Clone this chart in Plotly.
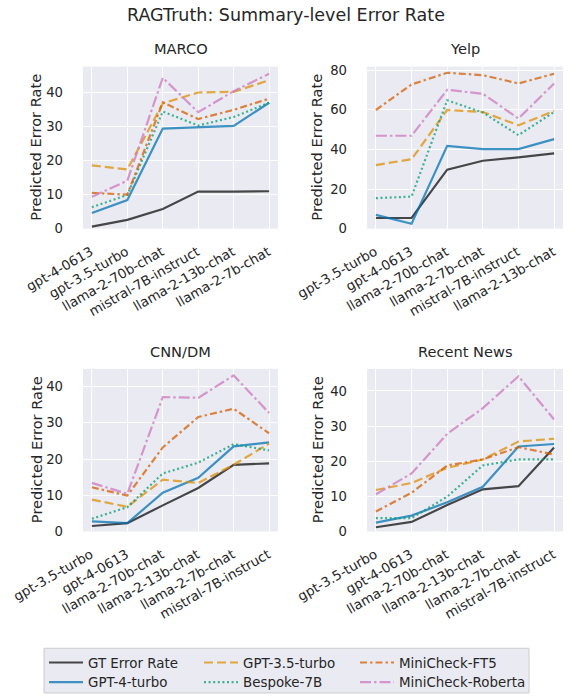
import plotly.graph_objects as go

W, H = 569, 698

# ---------------- data ----------------
series_names = ["GT Error Rate", "GPT-4-turbo", "GPT-3.5-turbo", "Bespoke-7B", "MiniCheck-FT5", "MiniCheck-Roberta"]

marco_cats = ["gpt-4-0613", "gpt-3.5-turbo", "llama-2-70b-chat", "mistral-7B-instruct", "llama-2-13b-chat", "llama-2-7b-chat"]
marco_gt = [0.6, 2.6, 5.8, 10.9, 10.9, 11.0]
marco_gpt4 = [4.6, 8.4, 29.4, 29.8, 30.2, 37.0]
marco_gpt35 = [18.6, 17.4, 36.8, 40.0, 40.2, 43.6]
marco_bespoke = [6.3, 9.9, 34.4, 30.3, 32.8, 37.0]
marco_ft5 = [10.5, 10.0, 37.1, 32.2, 34.9, 38.2]
marco_roberta = [9.4, 14.1, 44.3, 34.2, 40.4, 45.5]

yelp_cats = ["gpt-3.5-turbo", "gpt-4-0613", "llama-2-70b-chat", "llama-2-7b-chat", "mistral-7B-instruct", "llama-2-13b-chat"]
yelp_gt = [5.4, 5.5, 29.8, 34.3, 36.0, 38.0]
yelp_gpt4 = [7.0, 2.5, 41.8, 40.2, 40.2, 45.2]
yelp_gpt35 = [32.1, 35.1, 59.9, 58.9, 52.2, 59.4]
yelp_bespoke = [15.4, 16.2, 64.8, 58.6, 47.2, 58.9]
yelp_ft5 = [59.9, 72.8, 78.7, 77.5, 73.3, 78.2]
yelp_roberta = [46.9, 46.9, 70.1, 68.1, 55.6, 73.3]

cnn_cats = ["gpt-3.5-turbo", "gpt-4-0613", "llama-2-70b-chat", "llama-2-13b-chat", "llama-2-7b-chat", "mistral-7B-instruct"]
cnn_gt = [1.5, 2.3, 7.2, 12.0, 18.4, 18.8]
cnn_gpt4 = [2.8, 2.3, 10.7, 14.8, 23.5, 24.6]
cnn_gpt35 = [8.8, 6.8, 14.3, 13.4, 18.4, 24.3]
cnn_bespoke = [3.5, 6.7, 16.0, 19.0, 24.1, 22.4]
cnn_ft5 = [12.2, 9.9, 23.2, 31.6, 33.9, 27.1]
cnn_roberta = [13.4, 10.4, 37.1, 36.9, 43.1, 32.7]

news_cats = ["gpt-3.5-turbo", "gpt-4-0613", "llama-2-70b-chat", "llama-2-13b-chat", "llama-2-7b-chat", "mistral-7B-instruct"]
news_gt = [1.2, 2.7, 7.5, 12.0, 12.9, 23.9]
news_gpt4 = [2.5, 4.5, 8.3, 12.7, 24.2, 24.9]
news_gpt35 = [11.8, 13.8, 18.1, 20.5, 25.6, 26.4]
news_bespoke = [3.8, 3.8, 9.9, 18.8, 20.5, 20.5]
news_ft5 = [5.7, 11.0, 18.8, 20.5, 24.0, 21.9]
news_roberta = [10.6, 16.5, 27.8, 35.1, 44.2, 31.9]

panel_titles = ["MARCO", "Yelp", "CNN/DM", "Recent News"]
y_ticks_small = [0, 10, 20, 30, 40]
y_ticks_yelp = [0, 20, 40, 60, 80]

# ---------------- styling ----------------
colors = ["rgba(0,0,0,0.70)", "rgba(1,115,178,0.75)", "rgba(222,143,5,0.75)",
          "rgba(2,158,115,0.75)", "rgba(213,94,0,0.75)", "rgba(204,120,188,0.75)"]
dashes = ["solid", "solid", "9px,4px", "2px,2.6px", "7px,3px,2.5px,3px", "11px,3px,2.5px,3px"]
TXT = "#262626"
FONT = "DejaVu Sans"

def px_x(p):
    return p / W

def px_y(p):
    return 1 - p / H

# panel pixel boxes: (left, right, top, bottom)
boxes = [(83, 278, 67, 230), (367, 563, 67, 230), (83, 278, 371, 534.5), (367, 563, 371, 534.5)]
yranges = [[0, 47.6], [0, 81.8], [0, 44.9], [0, 46.3]]
yticks = [y_ticks_small, y_ticks_yelp, y_ticks_small, y_ticks_small]
cats = [marco_cats, yelp_cats, cnn_cats, news_cats]
data = [
    [marco_gt, marco_gpt4, marco_gpt35, marco_bespoke, marco_ft5, marco_roberta],
    [yelp_gt, yelp_gpt4, yelp_gpt35, yelp_bespoke, yelp_ft5, yelp_roberta],
    [cnn_gt, cnn_gpt4, cnn_gpt35, cnn_bespoke, cnn_ft5, cnn_roberta],
    [news_gt, news_gpt4, news_gpt35, news_bespoke, news_ft5, news_roberta],
]

fig = go.Figure()
layout = dict(
    width=W, height=H,
    margin=dict(l=0, r=0, t=0, b=0),
    paper_bgcolor="white",
    plot_bgcolor="#EAEAF2",
    font=dict(family=FONT, color=TXT, size=13),
    annotations=[],
    shapes=[],
)

for i in range(4):
    l, r, t, b = boxes[i]
    xa = "xaxis" if i == 0 else f"xaxis{i+1}"
    ya = "yaxis" if i == 0 else f"yaxis{i+1}"
    xref = "x" if i == 0 else f"x{i+1}"
    yref = "y" if i == 0 else f"y{i+1}"
    layout[xa] = dict(
        domain=[px_x(l), px_x(r)], anchor=yref, type="category",
        categoryorder="array", categoryarray=cats[i],
        range=[-0.25, 5.25], tickangle=-30, showgrid=True, gridcolor="white",
        gridwidth=1.3, zeroline=False, showline=False, ticks="",
        ticklabelstandoff=12, ticklabelshift=-1,
        tickfont=dict(size=13.4, family=FONT, color=TXT),
        automargin=False, fixedrange=True,
    )
    layout[ya] = dict(
        domain=[px_y(b), px_y(t)], anchor=xref, range=yranges[i],
        tickvals=yticks[i], showgrid=True, gridcolor="white", gridwidth=1.3,
        zeroline=False, showline=False, ticks="", ticklabelstandoff=19,
        tickfont=dict(size=13.2, family=FONT, color=TXT), automargin=False, fixedrange=True,
    )
    for s in range(6):
        fig.add_trace(go.Scatter(
            x=cats[i], y=data[i][s], mode="lines", name=series_names[s],
            xaxis=xref, yaxis=yref,
            line=dict(color=colors[s], width=2.2, dash=dashes[s]),
            showlegend=(i == 0), legend=("legend" if s == 0 else f"legend{s+1}"),
            hoverinfo="skip",
        ))
    # panel title
    layout["annotations"].append(dict(
        text=panel_titles[i], x=px_x((l + r) / 2), y=px_y(49 if i < 2 else 354),
        xref="paper", yref="paper", xanchor="center", yanchor="middle",
        showarrow=False, font=dict(size=14.6, family=FONT, color=TXT)))
    # y axis title
    layout["annotations"].append(dict(
        text="Predicted Error Rate", x=px_x(36 if i % 2 == 0 else 317), y=px_y((t + b) / 2),
        xref="paper", yref="paper", xanchor="center", yanchor="middle", textangle=-90,
        showarrow=False, font=dict(size=14.6, family=FONT, color=TXT)))

# main title
layout["annotations"].append(dict(
    text="RAGTruth: Summary-level Error Rate", x=px_x(285.5), y=px_y(15.5),
    xref="paper", yref="paper", xanchor="center", yanchor="middle",
    showarrow=False, font=dict(size=17.5, family=FONT, color=TXT)))

# legend frame
layout["shapes"].append(dict(
    type="rect", xref="paper", yref="paper",
    x0=px_x(44), x1=px_x(529), y0=px_y(697), y1=px_y(652),
    fillcolor="#EAEAF2", line=dict(color="#CCCCCC", width=1), layer="below"))

# one legend per entry, laid out in matplotlib's column-first 3x2 grid
leg_common = dict(orientation="v", xanchor="left", yanchor="top",
                  bgcolor="rgba(0,0,0,0)", borderwidth=0,
                  font=dict(size=13.4, family=FONT, color=TXT),
                  tracegroupgap=0, itemwidth=34)
col_line_starts = [52, 207, 363]
row_centers = [664, 684]
for s in range(6):
    col, row = s // 2, s % 2
    key = "legend" if s == 0 else f"legend{s+1}"
    layout[key] = dict(leg_common, x=px_x(col_line_starts[col] - 8), y=px_y(row_centers[row] - 13))

fig.update_layout(**layout)
fig.write_html("out.html", config={"displayModeBar": False},
               post_script="document.body.style.margin='0px';")
